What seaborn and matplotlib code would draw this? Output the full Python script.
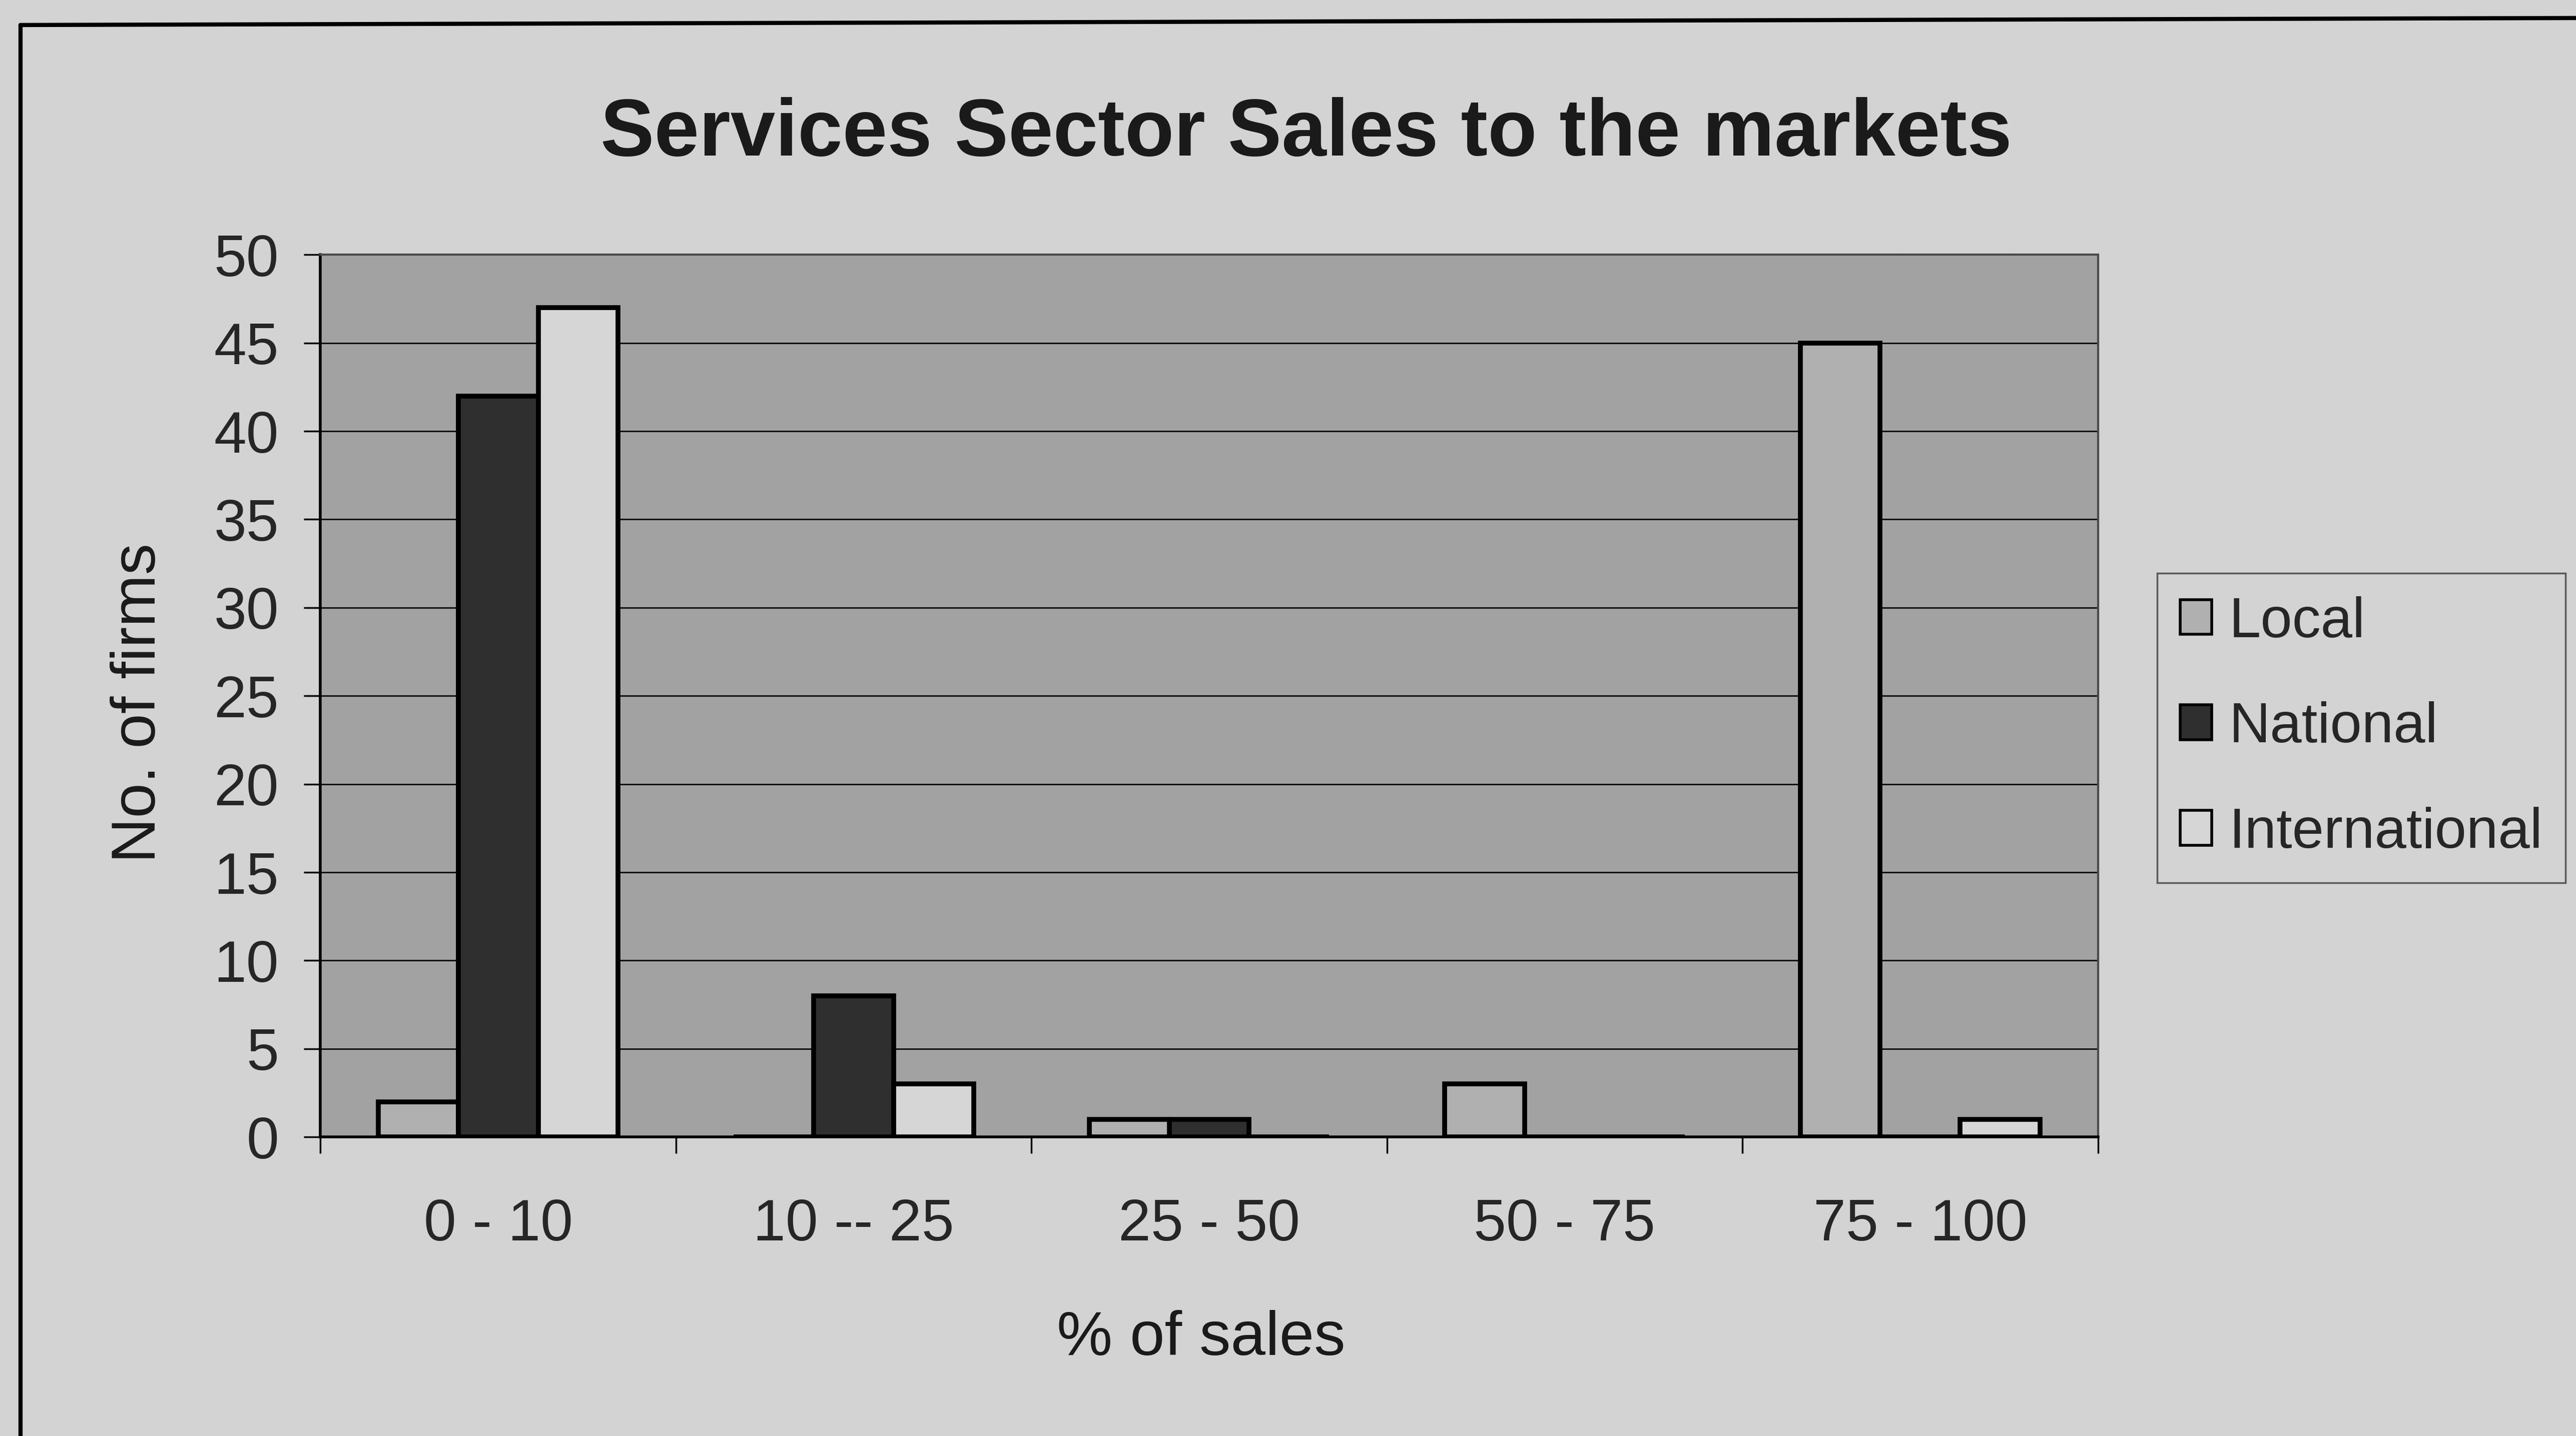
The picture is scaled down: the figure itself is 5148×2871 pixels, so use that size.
import numpy as np
import pandas as pd
import matplotlib
matplotlib.use("Agg")
import matplotlib.pyplot as plt
from matplotlib.patches import Patch, Rectangle
from matplotlib.lines import Line2D
import seaborn as sns

# ---- data -------------------------------------------------------------
categories = ["0 - 10", "10 -- 25", "25 - 50", "50 - 75", "75 - 100"]
series = ["Local", "National", "International"]
local = [2, 0, 1, 3, 45]
national = [42, 8, 1, 0, 0]
international = [47, 3, 0, 0, 1]
y_ticks = [0, 5, 10, 15, 20, 25, 30, 35, 40, 45, 50]

title = "Services Sector Sales to the markets"
x_label = "% of sales"
y_label = "No. of firms"

df = pd.DataFrame({
    "range": categories * 3,
    "market": [s for s in series for _ in categories],
    "firms": local + national + international,
})

# ---- style ------------------------------------------------------------
sns.set_style("white")
plt.rcParams["font.family"] = ["Liberation Sans", "DejaVu Sans"]
plt.rcParams["hatch.linewidth"] = 1.4

page = "#d3d3d3"
plot_bg = "#b3b3b3"
bar_colors = ["#b0b0b0", "#2f2f2f", "#d6d6d6"]

W, H, DPI = 5148, 2871, 100
fig = plt.figure(figsize=(W / DPI, H / DPI), dpi=DPI, facecolor=page)
ax = fig.add_axes([0.1244, 0.2082, 0.8144 - 0.1244, 0.8226 - 0.2082])
ax.set_facecolor(plot_bg)

# fine diagonal texture of the plot area
ax.add_patch(Rectangle((0, 0), 1, 1, transform=ax.transAxes,
                       facecolor=plot_bg, edgecolor="#a2a2a2", linewidth=0,
                       hatch="/" * 18, zorder=0.2))

sns.barplot(data=df, x="range", y="firms", hue="market",
            order=categories, hue_order=series, palette=bar_colors,
            width=0.675, saturation=1, edgecolor="black", linewidth=7,
            errorbar=None, legend=False, ax=ax, zorder=3)

# ---- axes -------------------------------------------------------------
ax.set_xlim(-0.5, len(categories) - 0.5)
ax.set_ylim(0, 50)
ax.set_yticks(y_ticks)
ax.set_yticklabels([str(v) for v in y_ticks])
ax.set_xticks(range(len(categories)))
ax.set_xticklabels(categories)
ax.set_xticks(np.arange(-0.5, len(categories), 1.0), minor=True)

ax.set_axisbelow(True)
ax.yaxis.grid(True, color="#111111", linewidth=2.2)
ax.xaxis.grid(False)

ax.tick_params(axis="y", which="major", direction="out", length=24, width=2.5,
               color="black", labelsize=84, pad=36, left=True)
ax.tick_params(axis="x", which="major", length=0, labelsize=84, pad=88)
ax.tick_params(axis="x", which="minor", direction="out", length=24, width=2.5,
               color="black", bottom=True)

for side in ["left", "bottom"]:
    ax.spines[side].set_color("black")
    ax.spines[side].set_linewidth(4)
for side in ["top", "right"]:
    ax.spines[side].set_color("#4a4a4a")
    ax.spines[side].set_linewidth(3)
    ax.spines[side].set_linestyle((0, (1.2, 0.6)))

ax.set_xlabel("")
ax.set_ylabel("")

# ---- texts ------------------------------------------------------------
fig.text(0.507, 0.906, title, ha="center", va="center",
         fontsize=116, fontweight="bold", color="#1a1a1a")
fig.text(0.054, 0.5103, y_label, ha="center", va="center", rotation=90,
         fontsize=90, color="#1a1a1a")
fig.text(0.4662, 0.0675, x_label, ha="center", va="center",
         fontsize=90, color="#1a1a1a")

# ---- legend -----------------------------------------------------------
handles = [Patch(facecolor=c, edgecolor="black", linewidth=4) for c in bar_colors]
leg = fig.legend(handles, series, loc="upper left",
                 bbox_to_anchor=(4311 / W, 1 - 1146 / H),
                 bbox_transform=fig.transFigure,
                 fontsize=82, frameon=True, fancybox=False, shadow=False,
                 handlelength=0.56, handleheight=0.56, handletextpad=0.3,
                 labelspacing=0.92, borderpad=0.4, borderaxespad=0)
frame = leg.get_frame()
frame.set_facecolor(page)
frame.set_edgecolor("#3a3a3a")
frame.set_linewidth(2.5)

# ---- outer chart border (runs off the right and bottom edges) ---------
fig.add_artist(Line2D([41 / W, 1.0], [1 - 50 / H, 1 - 36 / H],
                      transform=fig.transFigure, color="black", linewidth=6))
fig.add_artist(Line2D([41 / W, 41 / W], [1 - 50 / H, 0.0],
                      transform=fig.transFigure, color="black", linewidth=6))

fig.savefig("out.png", dpi=DPI, facecolor=page)
